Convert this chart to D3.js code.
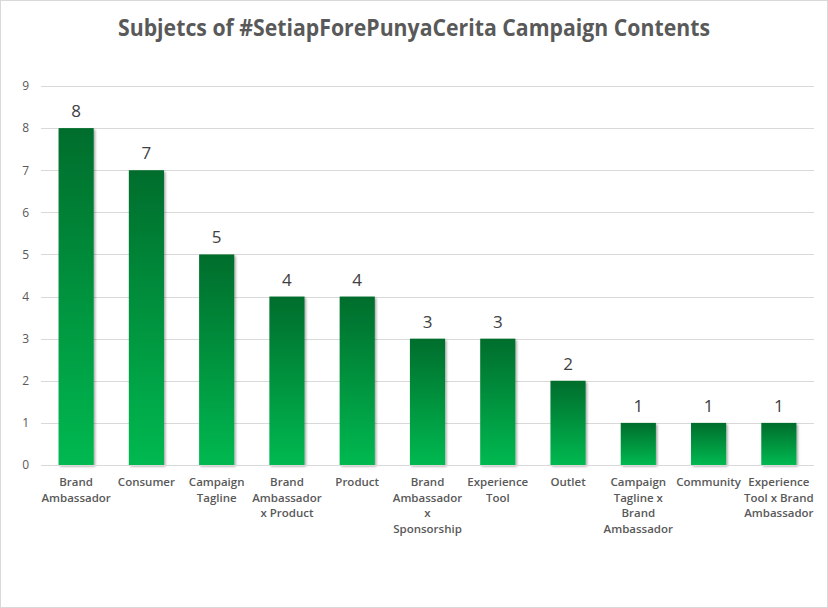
<!DOCTYPE html>
<html>
<head>
<meta charset="utf-8">
<script src="https://cdn.jsdelivr.net/npm/d3@7"></script>
<style>
  body { margin: 0; background: #fff; }
  text { font-family: "Open Sans", "Noto Sans", sans-serif; }
</style>
</head>
<body>
<div id="chart"></div>
<script>
// chart data
const categories = [
  "Brand Ambassador", "Consumer", "Campaign Tagline", "Brand Ambassador x Product",
  "Product", "Brand Ambassador x Sponsorship", "Experience Tool", "Outlet",
  "Campaign Tagline x Brand Ambassador", "Community", "Experience Tool x Brand Ambassador"
];
const counts = [8, 7, 5, 4, 4, 3, 3, 2, 1, 1, 1];
// tick labels as Excel wraps them
const tickLabels = [
  ["Brand", "Ambassador"], ["Consumer"], ["Campaign", "Tagline"],
  ["Brand", "Ambassador", "x Product"], ["Product"],
  ["Brand", "Ambassador", "x", "Sponsorship"], ["Experience", "Tool"], ["Outlet"],
  ["Campaign", "Tagline x", "Brand", "Ambassador"], ["Community"],
  ["Experience", "Tool x Brand", "Ambassador"]
];
const yTicks = [0, 1, 2, 3, 4, 5, 6, 7, 8, 9];
const title = "Subjetcs of #SetiapForePunyaCerita Campaign Contents";

const W = 828, H = 608;
const margin = { top: 86, right: 14, bottom: 143, left: 41 };
const innerW = W - margin.left - margin.right;
const innerH = H - margin.top - margin.bottom;

const svg = d3.select("#chart").append("svg")
  .attr("width", W).attr("height", H);

// outer frame
svg.append("rect")
  .attr("x", 0.5).attr("y", 0.5)
  .attr("width", W - 1).attr("height", H - 1)
  .attr("fill", "#fff").attr("stroke", "#d9d9d9");

const defs = svg.append("defs");
const grad = defs.append("linearGradient")
  .attr("id", "barGrad").attr("x1", 0).attr("y1", 0).attr("x2", 0).attr("y2", 1);
grad.append("stop").attr("offset", "0%").attr("stop-color", "#006d2c");
grad.append("stop").attr("offset", "100%").attr("stop-color", "#00b950");

const shadow = defs.append("filter").attr("id", "shadow")
  .attr("x", "-20%").attr("y", "-20%").attr("width", "140%").attr("height", "140%");
shadow.append("feDropShadow")
  .attr("dx", 1.5).attr("dy", 1.5).attr("stdDeviation", 1.3)
  .attr("flood-color", "#000").attr("flood-opacity", 0.35);

// title
const t = svg.append("text")
  .attr("x", W / 2).attr("y", 36)
  .attr("text-anchor", "middle")
  .attr("fill", "#595959")
  .attr("font-size", 23)
  .attr("font-weight", 700)
  .text(title);
const tl = t.node().getComputedTextLength();
if (tl > 592) t.attr("textLength", 592).attr("lengthAdjust", "spacingAndGlyphs");

const g = svg.append("g")
  .attr("transform", `translate(${margin.left},${margin.top})`);

const x = d3.scaleBand()
  .domain(categories)
  .range([0, innerW])
  .paddingInner(0.5)
  .paddingOuter(0.25);

const y = d3.scaleLinear()
  .domain([0, 9])
  .range([innerH, 0]);

// gridlines
g.append("g")
  .selectAll("line")
  .data(yTicks)
  .join("line")
  .attr("x1", 0).attr("x2", innerW)
  .attr("y1", d => Math.round(y(d)) + 0.5)
  .attr("y2", d => Math.round(y(d)) + 0.5)
  .attr("stroke", "#d9d9d9");

// y axis labels
const yAxis = g.append("g")
  .call(d3.axisLeft(y).tickValues(yTicks).tickSize(0).tickPadding(12));
yAxis.select(".domain").remove();
yAxis.selectAll("text")
  .attr("fill", "#595959")
  .attr("font-size", 12)
  .style("font-family", "'Open Sans', sans-serif");

// bars
g.append("g")
  .selectAll("rect")
  .data(counts)
  .join("rect")
  .attr("x", (d, i) => x(categories[i]))
  .attr("y", d => y(d))
  .attr("width", x.bandwidth())
  .attr("height", d => innerH - y(d))
  .attr("fill", "url(#barGrad)")
  .attr("filter", "url(#shadow)");

// data labels
g.append("g")
  .selectAll("text")
  .data(counts)
  .join("text")
  .attr("x", (d, i) => x(categories[i]) + x.bandwidth() / 2)
  .attr("y", d => y(d) - 11)
  .attr("text-anchor", "middle")
  .attr("fill", "#404040")
  .attr("font-size", 17)
  .text(d => d);

// x tick labels
const xl = g.append("g")
  .selectAll("text")
  .data(tickLabels)
  .join("text")
  .attr("x", (d, i) => x(categories[i]) + x.bandwidth() / 2)
  .attr("y", innerH + 21)
  .attr("text-anchor", "middle")
  .attr("fill", "#595959")
  .attr("font-size", 11.5)
  .attr("font-weight", 600);
xl.selectAll("tspan")
  .data(d => d)
  .join("tspan")
  .attr("x", function () { return d3.select(this.parentNode).attr("x"); })
  .attr("dy", (d, i) => i === 0 ? 0 : 15.6)
  .text(d => d);

// baseline
g.append("line")
  .attr("x1", 0).attr("x2", innerW)
  .attr("y1", Math.round(innerH) + 0.5).attr("y2", Math.round(innerH) + 0.5)
  .attr("stroke", "#d9d9d9");
</script>
</body>
</html>
